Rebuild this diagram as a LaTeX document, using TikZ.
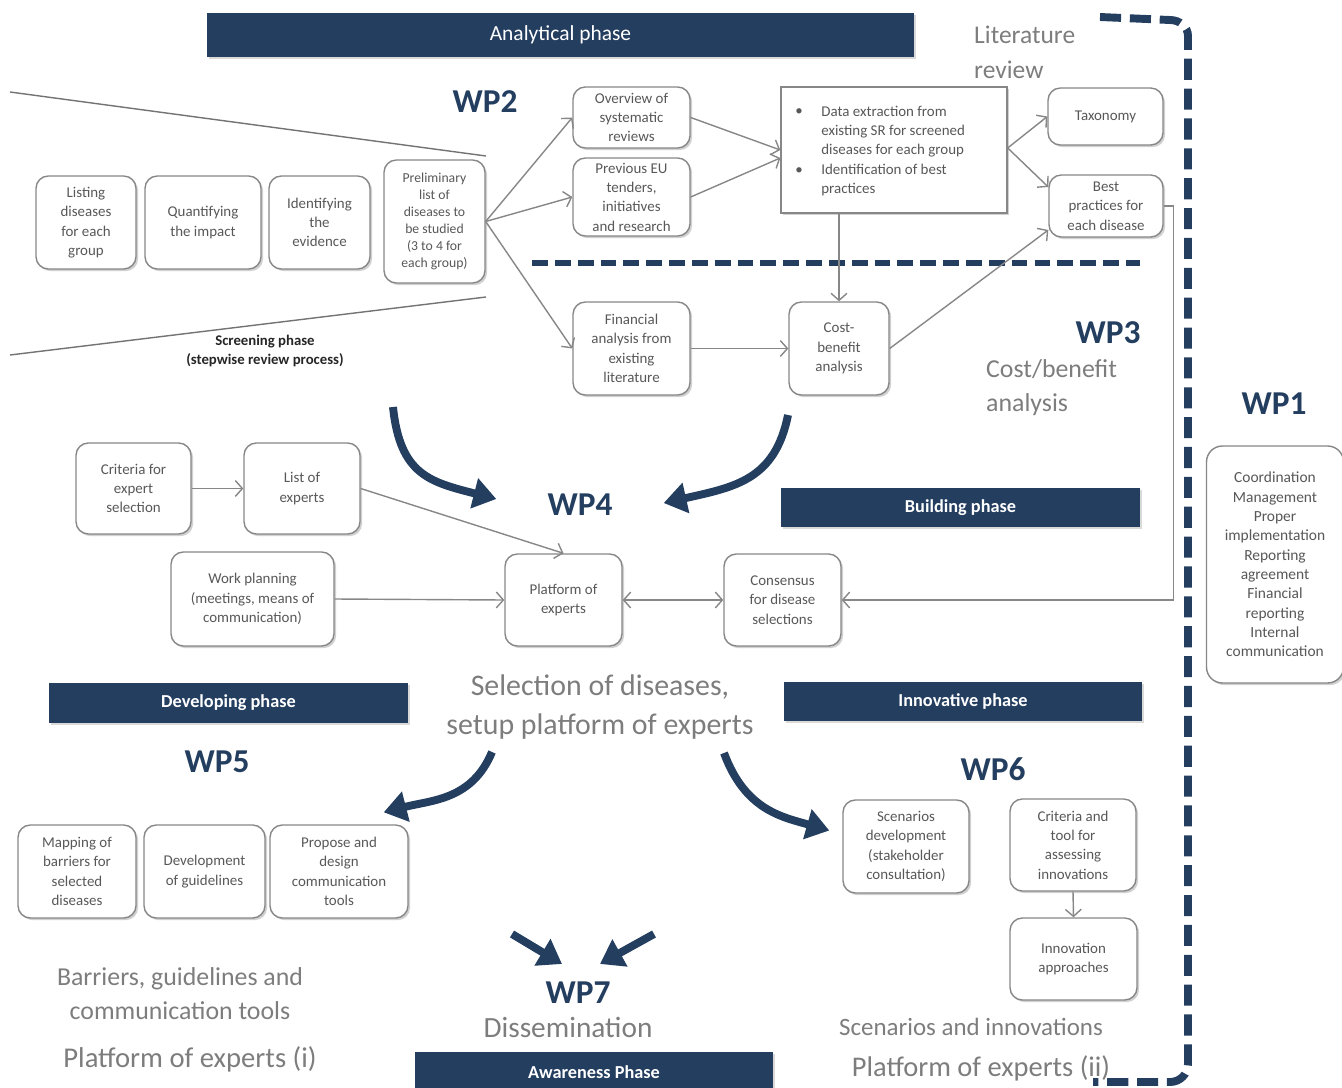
\documentclass[tikz,border=0pt]{standalone}
\usepackage{fontspec}
\setmainfont{Carlito}
\usetikzlibrary{arrows.meta,shadows,calc}
\definecolor{navy}{RGB}{36,62,96}
\definecolor{boxtxt}{RGB}{88,88,88}
\definecolor{boxline}{RGB}{135,135,135}
\definecolor{biggray}{RGB}{125,125,125}
\tikzset{
  box/.style={draw=boxline, line width=0.8pt, rounded corners=7pt, fill=white, align=center,
    text=boxtxt, font=\fontsize{8.5}{11}\selectfont, inner sep=1pt,
    drop shadow={shadow xshift=1.2pt, shadow yshift=-1.2pt, opacity=0.3, fill=black!60}},
  sqbox/.style={box, rounded corners=0pt},
  band/.style={fill=navy, text=white, inner sep=0pt,
    drop shadow={shadow xshift=1pt, shadow yshift=-1pt, opacity=0.25, fill=black!60}},
  bandbold/.style={band, font=\fontsize{10.4}{12}\selectfont\bfseries},
  conn/.style={draw=boxline, line width=0.8pt, -{Straight Barb[length=4pt,width=9pt]}},
  conn2/.style={draw=boxline, line width=0.8pt, {Straight Barb[length=4pt,width=9pt]}-{Straight Barb[length=4pt,width=9pt]}},
  bigarrow/.style={draw=navy, line width=4.5pt, -{Triangle[length=13pt,width=17pt]}},
  wp/.style={font=\fontsize{19}{22}\selectfont\bfseries, text=navy},
  biglabel/.style={text=biggray, align=center},
  funnel/.style={draw=black!55, line width=0.8pt},
  wpdash/.style={draw=navy, line width=4.5pt, dash pattern=on 12pt off 5pt},
  hdash/.style={draw=navy, line width=3pt, dash pattern=on 9pt off 4pt}
}
\begin{document}
\begin{tikzpicture}[x=0.02cm,y=-0.02cm]
\useasboundingbox (0,0) rectangle (1342,1088);

% ---- phase bands
\node[band, minimum width=14.14cm, minimum height=0.88cm, font=\fontsize{12.2}{14}\selectfont] (analytical) at (560.5,35) {Analytical phase};
\node[bandbold, minimum width=7.18cm, minimum height=0.78cm] (building) at (960.5,507.5) {Building phase};
\node[bandbold, minimum width=7.18cm, minimum height=0.80cm] (developing) at (228.5,703) {Developing phase};
\node[bandbold, minimum width=7.16cm, minimum height=0.78cm] (innovative) at (963,701.5) {Innovative phase};
\node[bandbold, minimum width=7.16cm, minimum height=0.80cm] (awareness) at (594,1072) {Awareness Phase};

% ---- WP1 dashed boundary
\draw[wpdash] (1100,17) -- (1170,20) to[out=0,in=90] (1188,36) -- (1188,1064) to[out=-90,in=0] (1170,1082) -- (1093,1082);
% ---- WP2/WP3 separator
\draw[hdash] (532,263) -- (1140,263);

% ---- screening funnel
\draw[funnel] (10,92) -- (486,156);
\draw[funnel] (10,355) -- (486,297);

% ---- labels
\node[wp] (wp2) at (485,102) {WP2};
\node[wp] (wp3) at (1108,333) {WP3};
\node[wp] (wp1) at (1274,404) {WP1};
\node[wp] (wp4) at (580,505) {WP4};
\node[wp] (wp5) at (217,762) {WP5};
\node[wp] (wp6) at (993,769) {WP6};
\node[wp] (wp7) at (578,993) {WP7};

\node[biglabel, anchor=west, align=left, font=\fontsize{14.5}{19.8}\selectfont] (litrev) at (968,52) {Literature\\review};
\node[biglabel, anchor=west, align=left, font=\fontsize{14.7}{19.4}\selectfont] (cblabel) at (980,388) {Cost/benefit\\analysis};
\node[biglabel, font=\fontsize{17}{22.7}\selectfont] (sellabel) at (600,707) {Selection of diseases,\\setup platform of experts};
\node[biglabel, font=\fontsize{14.7}{19.4}\selectfont] (barlabel) at (180,994) {Barriers, guidelines and\\communication tools};
\node[biglabel, font=\fontsize{16.3}{19}\selectfont] (plat1) at (190,1059) {Platform of experts (i)};
\node[biglabel, font=\fontsize{16.7}{19}\selectfont] (dissem) at (568,1027) {Dissemination};
\node[biglabel, font=\fontsize{14.2}{17}\selectfont] (scenlabel) at (971,1027) {Scenarios and innovations};
\node[biglabel, font=\fontsize{16.2}{19}\selectfont] (plat2) at (981,1068) {Platform of experts (ii)};

\node[align=center, text=black!85, font=\fontsize{8.4}{10.8}\selectfont\bfseries] (screening) at (265,351) {Screening phase\\(stepwise review process)};

% ---- screening boxes
\node[box, minimum width=2.00cm, minimum height=1.86cm] (listing) at (86,222.5) {Listing\\diseases\\for each\\group};
\node[box, minimum width=2.32cm, minimum height=1.86cm] (quant) at (203,222.5) {Quantifying\\the impact};
\node[box, minimum width=2.02cm, minimum height=1.86cm] (ident) at (319.5,222.5) {Identifying\\the\\evidence};
\node[box, minimum width=2.02cm, minimum height=2.46cm, font=\fontsize{7.8}{9.6}\selectfont] (prelim) at (434.5,221.5) {Preliminary\\list of\\diseases to\\be studied\\(3 to 4 for\\each group)};

% ---- WP2 / WP3 boxes
\node[box, minimum width=2.34cm, minimum height=1.22cm] (overview) at (631.5,117.5) {Overview of\\systematic\\reviews};
\node[box, minimum width=2.34cm, minimum height=1.56cm] (prevEU) at (631.5,197) {Previous EU\\tenders,\\initiatives\\and research};
\node[sqbox, minimum width=4.52cm, minimum height=2.52cm] (dataext) at (894,150) {};
\node[text=boxtxt, font=\fontsize{8.5}{11}\selectfont] (bul1) at (799,112) {•};
\node[text=boxtxt, font=\fontsize{8.5}{11}\selectfont] (bul2) at (799,171) {•};
\node[anchor=west, align=left, text=boxtxt, font=\fontsize{8.5}{11}\selectfont, inner sep=0pt] (datatext) at (821,151) {Data extraction from\\existing SR for screened\\diseases for each group\\Identification of best\\practices};
\node[box, minimum width=2.30cm, minimum height=1.14cm] (taxonomy) at (1105.5,116.5) {Taxonomy};
\node[box, minimum width=2.28cm, minimum height=1.24cm] (bestprac) at (1106,206) {Best\\practices for\\each disease};
\node[box, minimum width=2.34cm, minimum height=1.86cm] (financial) at (631.5,348.5) {Financial\\analysis from\\existing\\literature};
\node[box, minimum width=2.00cm, minimum height=1.86cm] (costben) at (839,348.5) {Cost-\\benefit\\analysis};

% ---- WP1 box
\node[box, minimum width=2.74cm, minimum height=4.74cm, font=\fontsize{8.8}{11}\selectfont, rounded corners=9pt] (wp1box) at (1275,564.5) {Coordination\\Management\\Proper\\implementation\\Reporting\\agreement\\Financial\\reporting\\Internal\\communication};

% ---- WP4 boxes
\node[box, minimum width=2.30cm, minimum height=1.82cm] (crit) at (133.5,488.5) {Criteria for\\expert\\selection};
\node[box, minimum width=2.32cm, minimum height=1.82cm] (listexp) at (302,488.5) {List of\\experts};
\node[box, minimum width=3.26cm, minimum height=1.88cm] (work) at (252.5,599) {Work planning\\(meetings, means of\\communication)};
\node[box, minimum width=2.34cm, minimum height=1.84cm] (platform) at (563.5,600) {Platform of\\experts};
\node[box, minimum width=2.34cm, minimum height=1.84cm] (consensus) at (782.5,600) {Consensus\\for disease\\selections};

% ---- WP5 boxes
\node[box, minimum width=2.36cm, minimum height=1.86cm] (mapping) at (77,871.5) {Mapping of\\barriers for\\selected\\diseases};
\node[box, minimum width=2.42cm, minimum height=1.86cm] (devel) at (204.5,871.5) {Development\\of guidelines};
\node[box, minimum width=2.76cm, minimum height=1.86cm] (propose) at (339,871.5) {Propose and\\design\\communication\\tools};

% ---- WP6 boxes
\node[box, minimum width=2.52cm, minimum height=1.86cm] (scen) at (906,846.5) {Scenarios\\development\\(stakeholder\\consultation)};
\node[box, minimum width=2.52cm, minimum height=1.84cm] (crit2) at (1073,845) {Criteria and\\tool for\\assessing\\innovations};
\node[box, minimum width=2.54cm, minimum height=1.64cm] (innov) at (1073.5,959) {Innovation\\approaches};

% ---- thin connectors
\draw[conn] (prelim.east) -- (overview.west);
\draw[conn] (prelim.east) -- (prevEU.west);
\draw[conn] (prelim.east) -- (financial.west);
\draw[conn] (overview.east) -- (dataext.west);
\draw[conn] (prevEU.east) -- ($(dataext.west)+(0,8)$);
\draw[conn] ($(dataext.east)+(0,-2)$) -- (taxonomy.west);
\draw[conn] ($(dataext.east)+(0,-2)$) -- ($(bestprac.west)+(0,-19)$);
\draw[conn] (costben.north |- dataext.south) -- (costben.north);
\draw[conn] (financial.east) -- (costben.west);
\draw[conn] (costben.east) -- ($(bestprac.west)+(0,24)$);
\draw[conn] (bestprac.east) -- ++(10,0) |- (consensus.east);
\draw[conn] (crit.east) -- (listexp.west);
\draw[conn] (listexp.east) -- (platform.north);
\draw[conn] (work.east) -- (platform.west);
\draw[conn2] (platform.east) -- (consensus.west);
\draw[conn] (crit2.south) -- (innov.north);

% ---- big curved arrows
\coordinate (a1s) at (393,407);
\coordinate (a2s) at (788,415);
\coordinate (a3s) at (492,752);
\coordinate (a4s) at (724,753);
\coordinate (a5s) at (512,934);
\coordinate (a6s) at (654,934);
\draw[bigarrow] (a1s) .. controls (400,475) and (430,482) .. ($(wp4.west)+(-45,-6)$);
\draw[bigarrow] (a2s) .. controls (775,480) and (735,487) .. ($(wp4.east)+(45,-2)$);
\draw[bigarrow] (a3s) .. controls (472,800) and (432,800) .. ($(propose.north east)+(-25,-12)$);
\draw[bigarrow] (a4s) .. controls (745,810) and (782,817) .. ($(scen.west)+(-13,-16)$);
\draw[bigarrow] (a5s) -- ($(wp7.north)+(-16,-12)$);
\draw[bigarrow] (a6s) -- ($(wp7.north)+(22,-12)$);
\end{tikzpicture}
\end{document}
